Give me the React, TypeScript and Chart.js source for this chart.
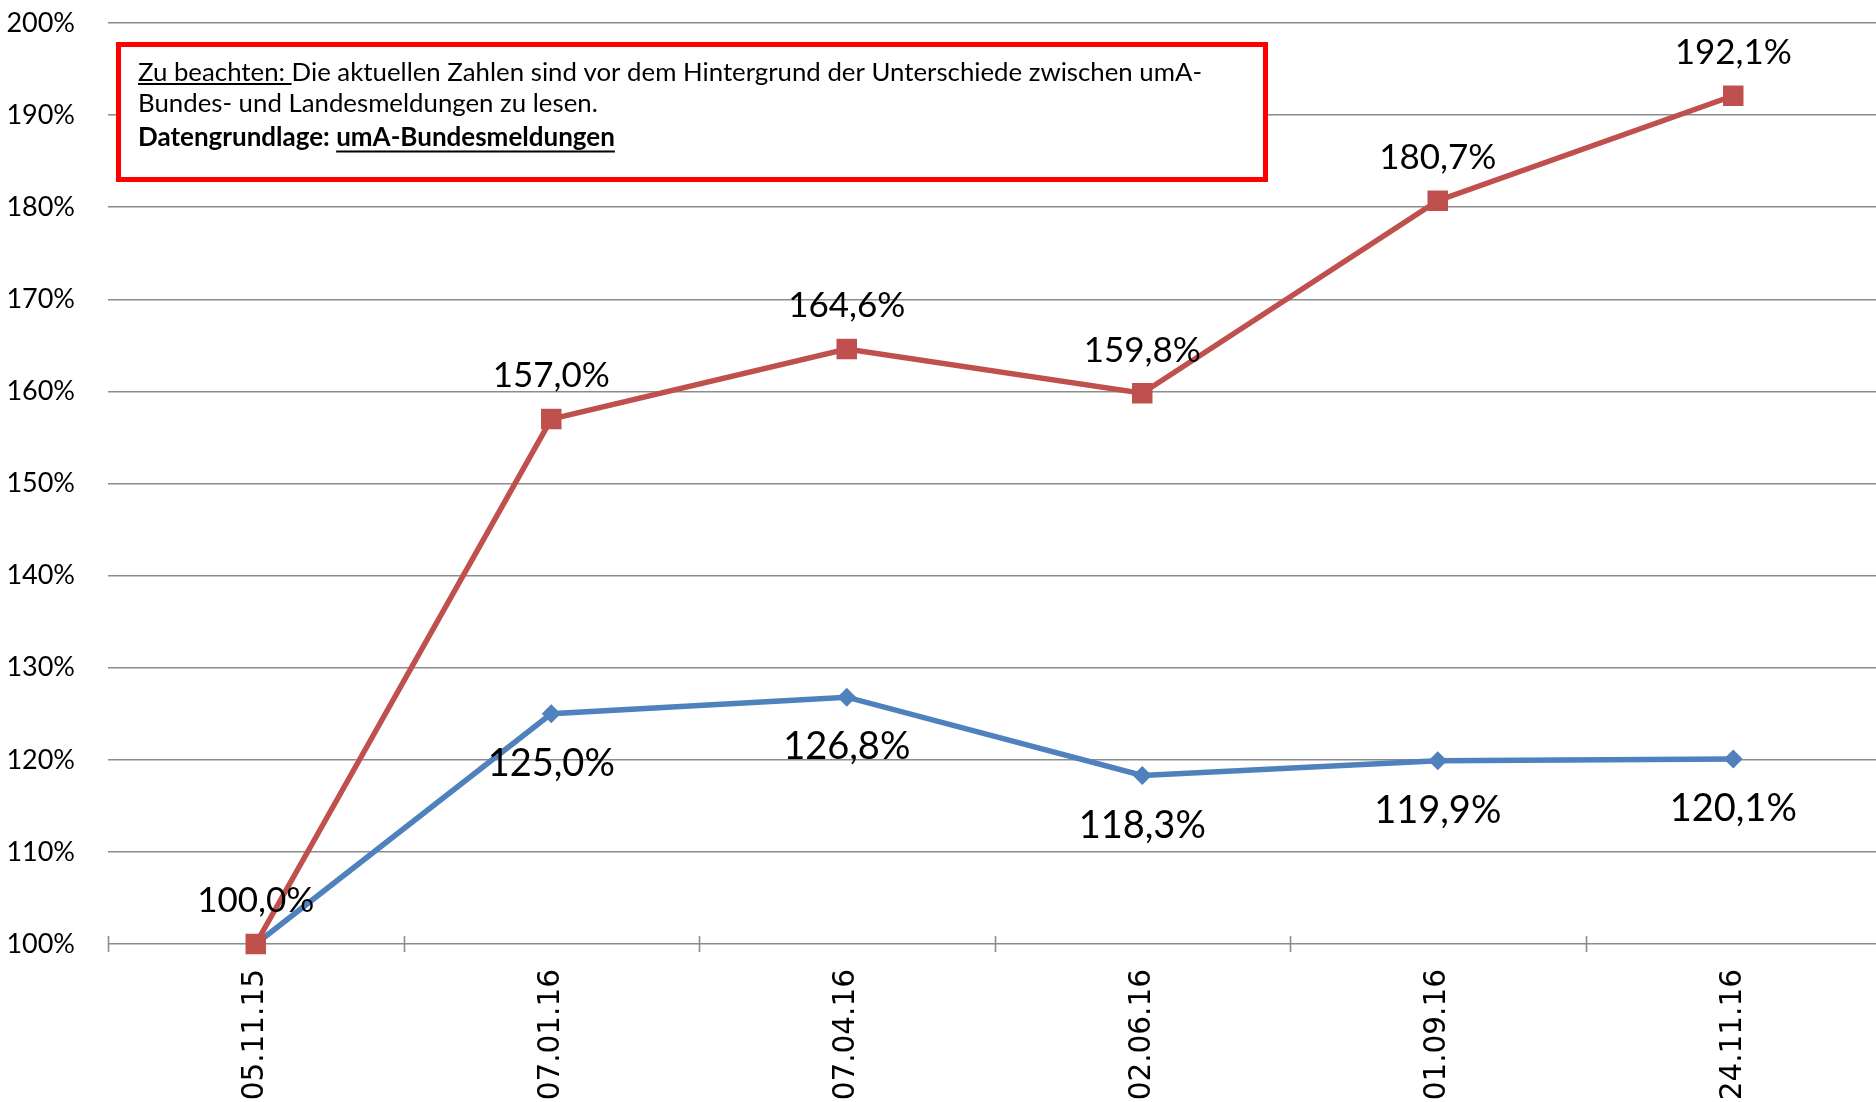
import React, { useEffect, useRef } from 'react';
import { Chart, registerables } from 'chart.js';

Chart.register(...registerables);

const categories = ['05.11.15', '07.01.16', '07.04.16', '02.06.16', '01.09.16', '24.11.16'];
const redSeries = [100.0, 157.0, 164.6, 159.8, 180.7, 192.1];
const blueSeries = [100.0, 125.0, 126.8, 118.3, 119.9, 120.1];
const yMin = 100;
const yMax = 200;
const yStep = 10;

const noteLine1Underlined = 'Zu beachten: ';
const noteLine1Rest = 'Die aktuellen Zahlen sind vor dem Hintergrund der Unterschiede zwischen umA-';
const noteLine2 = 'Bundes- und Landesmeldungen zu lesen.';
const noteLine3Bold = 'Datengrundlage: ';
const noteLine3Underlined = 'umA-Bundesmeldungen';

const RED = '#C0504D';
const BLUE = '#4F81BD';
const GRID = '#8c8c8c';

const fmt = (v: number) => v.toFixed(1).replace('.', ',') + '%';

const overlayPlugin = {
  id: 'overlay',
  afterDatasetsDraw(chart: any) {
    const ctx = chart.ctx as CanvasRenderingContext2D;
    const xs = chart.scales.x;
    const ys = chart.scales.y;
    ctx.save();
    ctx.fillStyle = '#000';
    ctx.textAlign = 'center';
    ctx.textBaseline = 'middle';
    ctx.font = '35px Lato';
    redSeries.forEach((v, i) => {
      const x = xs.getPixelForValue(i);
      const y = ys.getPixelForValue(v);
      ctx.fillText(fmt(v), x, y - 43);
    });
    ctx.font = '38px Lato';
    blueSeries.forEach((v, i) => {
      if (i === 0) return;
      const x = xs.getPixelForValue(i);
      const y = ys.getPixelForValue(v);
      ctx.fillText(fmt(v), x, y + 50);
    });
    ctx.restore();
  },
  afterDraw(chart: any) {
    const ctx = chart.ctx as CanvasRenderingContext2D;
    const area = chart.chartArea;
    ctx.save();
    ctx.strokeStyle = GRID;
    ctx.lineWidth = 1.6;
    const n = categories.length;
    const w = (area.right - area.left) / n;
    for (let k = 0; k <= n; k++) {
      const x = Math.round(area.left + k * w) + 0.5;
      ctx.beginPath();
      ctx.moveTo(x, area.bottom - 8);
      ctx.lineTo(x, area.bottom + 8);
      ctx.stroke();
    }
    // annotation box
    ctx.fillStyle = '#ffffff';
    ctx.fillRect(116, 42, 1152, 140);
    ctx.strokeStyle = '#FF0000';
    ctx.lineWidth = 5;
    ctx.strokeRect(118.5, 44.5, 1147, 135);

    ctx.fillStyle = '#000';
    ctx.strokeStyle = '#000';
    ctx.textAlign = 'left';
    ctx.textBaseline = 'alphabetic';
    const tx = 138;
    ctx.font = '25.8px Lato';
    ctx.fillText(noteLine1Underlined, tx, 81);
    const u1 = ctx.measureText(noteLine1Underlined).width;
    ctx.lineWidth = 1.8;
    ctx.beginPath();
    ctx.moveTo(tx, 84);
    ctx.lineTo(tx + u1, 84);
    ctx.stroke();
    ctx.fillText(noteLine1Rest, tx + u1, 81);
    ctx.fillText(noteLine2, tx, 112);
    ctx.font = 'bold 26px Lato';
    ctx.fillText(noteLine3Bold, tx, 146);
    const b1 = ctx.measureText(noteLine3Bold).width;
    ctx.fillText(noteLine3Underlined, tx + b1, 146);
    const b2 = ctx.measureText(noteLine3Underlined).width;
    ctx.lineWidth = 2.2;
    ctx.beginPath();
    ctx.moveTo(tx + b1, 151.5);
    ctx.lineTo(tx + b1 + b2, 151.5);
    ctx.stroke();
    ctx.restore();
  },
};

export default function App() {
  const ref = useRef<HTMLCanvasElement | null>(null);
  useEffect(() => {
    if (!ref.current) return;
    const chart = new Chart(ref.current, {
      type: 'line',
      data: {
        labels: categories,
        datasets: [
          {
            label: 'Bundesmeldungen',
            data: redSeries,
            borderColor: RED,
            backgroundColor: RED,
            borderWidth: 5.5,
            pointStyle: 'rect',
            pointRadius: 14.5,
            pointBorderWidth: 0,
            pointBackgroundColor: RED,
            tension: 0,
            clip: false,
          },
          {
            label: 'Landesmeldungen',
            data: blueSeries,
            borderColor: BLUE,
            backgroundColor: BLUE,
            borderWidth: 5.5,
            pointStyle: 'rectRot',
            pointRadius: 9.5,
            pointBorderWidth: 0,
            pointBackgroundColor: BLUE,
            tension: 0,
            clip: false,
          },
        ],
      },
      options: {
        responsive: false,
        animation: false,
        devicePixelRatio: 1,
        layout: { autoPadding: false, padding: { top: 23, right: 0, left: 0, bottom: 0 } },
        plugins: {
          legend: { display: false },
          tooltip: { enabled: false },
          title: { display: false },
        },
        scales: {
          x: {
            type: 'category',
            offset: true,
            afterFit: (s: any) => {
              s.height = 158;
              s.paddingLeft = 0;
              s.paddingRight = 0;
              s.paddingTop = 0;
              s.paddingBottom = 0;
            },
            grid: { display: true, drawOnChartArea: false, drawTicks: false, offset: true },
            border: { display: false },
            ticks: {
              autoSkip: false,
              maxRotation: 90,
              minRotation: 90,
              padding: 25,
              color: '#000',
              font: { family: 'DejaVu Sans', size: 29.5 },
            },
          },
          y: {
            min: yMin,
            max: yMax,
            afterFit: (s: any) => {
              s.width = 108;
              s.paddingTop = 0;
              s.paddingBottom = 0;
              s.paddingLeft = 0;
              s.paddingRight = 0;
            },
            grid: { color: GRID, lineWidth: 1.6, drawTicks: false },
            border: { display: false },
            ticks: {
              stepSize: yStep,
              padding: 33,
              color: '#000',
              font: { family: 'Lato', size: 27 },
              callback: (v: any) => `${v}%`,
            },
          },
        },
      },
      plugins: [overlayPlugin],
    });
    return () => chart.destroy();
  }, []);
  return (
    <div style={{ position: 'fixed', left: 0, top: 0, width: 1876, height: 1102, background: '#fff', overflow: 'hidden' }}>
      <canvas ref={ref} width={1881} height={1102} style={{ display: 'block', width: 1881, height: 1102 }} />
    </div>
  );
}
